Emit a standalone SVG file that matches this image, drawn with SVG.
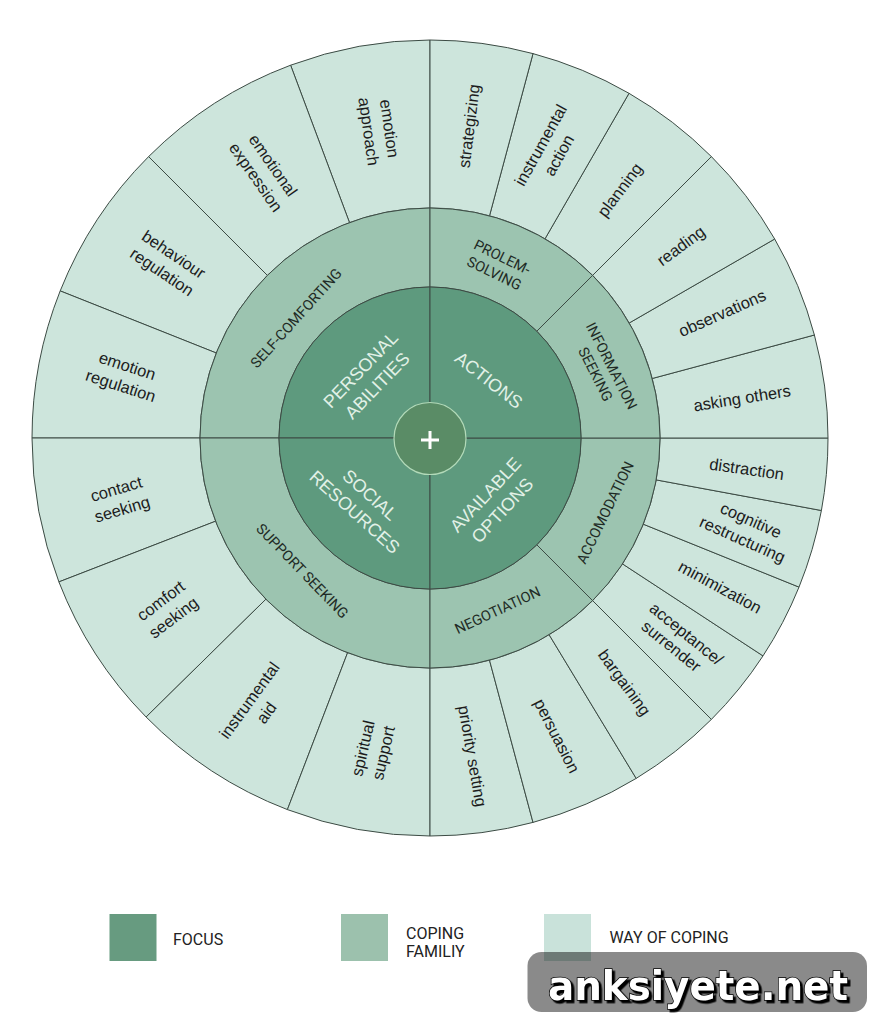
<svg xmlns="http://www.w3.org/2000/svg" width="871" height="1024" viewBox="0 0 871 1024">
<style>
.way{fill:#cde5dc;stroke:#3c4b44;stroke-width:1}
.fam{fill:#9cc4b0;stroke:#3c4b44;stroke-width:1}
.foc{fill:#5e9a7e;stroke:#3c4b44;stroke-width:1}
.wt{font-family:"Liberation Sans",Arial,sans-serif;font-size:16.5px;fill:#1c1c1c;text-anchor:middle}
.ft{font-family:Roboto,"Liberation Sans",sans-serif;font-size:14.5px;fill:#1f2b25;text-anchor:middle}
.fo{font-family:"Liberation Sans",Arial,sans-serif;font-size:18px;fill:#e2f1e7;text-anchor:middle}
.lg{font-family:Roboto,"Liberation Sans",sans-serif;font-size:16px;fill:#222}
</style>
<defs>
<filter id="shadow" x="-5%" y="-20%" width="110%" height="150%">
<feDropShadow dx="2.5" dy="2.5" stdDeviation="0.4" flood-color="#000000" flood-opacity="1"/>
</filter>
</defs>
<rect width="871" height="1024" fill="#ffffff"/>

<!-- ways of coping (outer ring) -->
<g id="way-emotion-approach"><path class="way" d="M430,40 A398,398 0 0 0 290.6,65.2 L349.5,222.6 A230,230 0 0 1 430,208 Z"/>
<text class="wt" transform="translate(379,130) rotate(82)"><tspan x="0" y="-5">emotion</tspan><tspan x="0" y="16">approach</tspan></text></g>
<g id="way-emotional-expression"><path class="way" d="M290.6,65.2 A398,398 0 0 0 148.6,156.6 L267.4,275.4 A230,230 0 0 1 349.5,222.6 Z"/>
<text class="wt" transform="translate(264.3,171.3) rotate(55)"><tspan x="0" y="-5">emotional</tspan><tspan x="0" y="16">expression</tspan></text></g>
<g id="way-behaviour-regulation"><path class="way" d="M148.6,156.6 A398,398 0 0 0 60.2,290.9 L216.3,353 A230,230 0 0 1 267.4,275.4 Z"/>
<text class="wt" transform="translate(167.7,263.3) rotate(34)"><tspan x="0" y="-5">behaviour</tspan><tspan x="0" y="16">regulation</tspan></text></g>
<g id="way-emotion-regulation"><path class="way" d="M60.2,290.9 A398,398 0 0 0 32,438 L200,438 A230,230 0 0 1 216.3,353 Z"/>
<text class="wt" transform="translate(124,376) rotate(18)"><tspan x="0" y="-5">emotion</tspan><tspan x="0" y="16">regulation</tspan></text></g>
<g id="way-contact-seeking"><path class="way" d="M32,438 A398,398 0 0 0 58.9,581.9 L215.6,521.2 A230,230 0 0 1 200,438 Z"/>
<text class="wt" transform="translate(119.3,499.3) rotate(-16.5)"><tspan x="0" y="-5">contact</tspan><tspan x="0" y="16">seeking</tspan></text></g>
<g id="way-comfort-seeking"><path class="way" d="M58.9,581.9 A398,398 0 0 0 146.1,717 L265.9,599.2 A230,230 0 0 1 215.6,521.2 Z"/>
<text class="wt" transform="translate(167.3,609.3) rotate(-37)"><tspan x="0" y="-5">comfort</tspan><tspan x="0" y="16">seeking</tspan></text></g>
<g id="way-instrumental-aid"><path class="way" d="M146.1,717 A398,398 0 0 0 287.4,809.6 L347.6,652.7 A230,230 0 0 1 265.9,599.2 Z"/>
<text class="wt" transform="translate(258,706.7) rotate(-54)"><tspan x="0" y="-5">instrumental</tspan><tspan x="0" y="16">aid</tspan></text></g>
<g id="way-spiritual-support"><path class="way" d="M287.4,809.6 A398,398 0 0 0 430,836 L430,668 A230,230 0 0 1 347.6,652.7 Z"/>
<text class="wt" transform="translate(373.3,750.7) rotate(-77)"><tspan x="0" y="-5">spiritual</tspan><tspan x="0" y="16">support</tspan></text></g>
<g id="way-priority-setting"><path class="way" d="M430,836 A398,398 0 0 0 533,822.4 L489.5,660.2 A230,230 0 0 1 430,668 Z"/>
<text class="wt" transform="translate(472.3,756) rotate(80)" y="5.5">priority setting</text></g>
<g id="way-persuasion"><path class="way" d="M533,822.4 A398,398 0 0 0 636.2,778.4 L549.1,634.7 A230,230 0 0 1 489.5,660.2 Z"/>
<text class="wt" transform="translate(556.7,736) rotate(63)" y="5.5">persuasion</text></g>
<g id="way-bargaining"><path class="way" d="M636.2,778.4 A398,398 0 0 0 711.4,719.4 L592.6,600.6 A230,230 0 0 1 549.1,634.7 Z"/>
<text class="wt" transform="translate(624.3,682.7) rotate(54)" y="5.5">bargaining</text></g>
<g id="way-acceptance-surrender"><path class="way" d="M711.4,719.4 A398,398 0 0 0 763,655.9 L622.5,563.9 A230,230 0 0 1 592.6,600.6 Z"/>
<text class="wt" transform="translate(680.3,641.3) rotate(39)"><tspan x="0" y="-4">acceptance/</tspan><tspan x="-4" y="15">surrender</tspan></text></g>
<g id="way-minimization"><path class="way" d="M763,655.9 A398,398 0 0 0 799,587.1 L643.3,524.2 A230,230 0 0 1 622.5,563.9 Z"/>
<text class="wt" transform="translate(720,587.3) rotate(28.5)" y="5.5">minimization</text></g>
<g id="way-cognitive-restructuring"><path class="way" d="M799,587.1 A398,398 0 0 0 821.4,510.5 L656.2,479.9 A230,230 0 0 1 643.3,524.2 Z"/>
<text class="wt" transform="translate(746.7,530) rotate(24)"><tspan x="0" y="-5">cognitive</tspan><tspan x="0" y="16">restructuring</tspan></text></g>
<g id="way-distraction"><path class="way" d="M821.4,510.5 A398,398 0 0 0 828,438 L660,438 A230,230 0 0 1 656.2,479.9 Z"/>
<text class="wt" transform="translate(746.7,469.3) rotate(8)" y="5.5">distraction</text></g>
<g id="way-asking-others"><path class="way" d="M828,438 A398,398 0 0 0 814.4,335 L652.2,378.5 A230,230 0 0 1 660,438 Z"/>
<text class="wt" transform="translate(742,398.3) rotate(-9)" y="5.5">asking others</text></g>
<g id="way-observations"><path class="way" d="M814.4,335 A398,398 0 0 0 774.7,239 L629.2,323 A230,230 0 0 1 652.2,378.5 Z"/>
<text class="wt" transform="translate(722.3,313.3) rotate(-24)" y="5.5">observations</text></g>
<g id="way-reading"><path class="way" d="M774.7,239 A398,398 0 0 0 711.4,156.6 L592.6,275.4 A230,230 0 0 1 629.2,323 Z"/>
<text class="wt" transform="translate(681,246) rotate(-36.5)" y="5.5">reading</text></g>
<g id="way-planning"><path class="way" d="M711.4,156.6 A398,398 0 0 0 629,93.3 L545,238.8 A230,230 0 0 1 592.6,275.4 Z"/>
<text class="wt" transform="translate(620,190) rotate(-53)" y="5.5">planning</text></g>
<g id="way-instrumental-action"><path class="way" d="M629,93.3 A398,398 0 0 0 533,53.6 L489.5,215.8 A230,230 0 0 1 545,238.8 Z"/>
<text class="wt" transform="translate(550,150.3) rotate(-61)"><tspan x="0" y="-5">instrumental</tspan><tspan x="0" y="16">action</tspan></text></g>
<g id="way-strategizing"><path class="way" d="M533,53.6 A398,398 0 0 0 430,40 L430,208 A230,230 0 0 1 489.5,215.8 Z"/>
<text class="wt" transform="translate(469.3,126) rotate(-83)" y="5.5">strategizing</text></g>

<!-- coping families (middle ring) -->
<g id="fam-self-comforting"><path class="fam" d="M430,208 A230,230 0 0 0 200,438 L279,438 A151,151 0 0 1 430,287 Z"/>
<text class="ft" transform="translate(296,318) rotate(-48)" y="5.2">SELF-COMFORTING</text></g>
<g id="fam-support-seeking"><path class="fam" d="M200,438 A230,230 0 0 0 430,668 L430,589 A151,151 0 0 1 279,438 Z"/>
<text class="ft" transform="translate(302.5,570.8) rotate(46)" y="5.2">SUPPORT SEEKING</text></g>
<g id="fam-negotiation"><path class="fam" d="M430,668 A230,230 0 0 0 592.6,600.6 L536.8,544.8 A151,151 0 0 1 430,589 Z"/>
<text class="ft" transform="translate(497.5,610) rotate(-25)" y="5.2">NEGOTIATION</text></g>
<g id="fam-accomodation"><path class="fam" d="M592.6,600.6 A230,230 0 0 0 660,438 L581,438 A151,151 0 0 1 536.8,544.8 Z"/>
<text class="ft" transform="translate(605,512.5) rotate(-64)" y="5.2">ACCOMODATION</text></g>
<g id="fam-information-seeking"><path class="fam" d="M660,438 A230,230 0 0 0 592.6,275.4 L536.8,331.2 A151,151 0 0 1 581,438 Z"/>
<text class="ft" transform="translate(603.7,370) rotate(63)"><tspan x="0" y="-3.8">INFORMATION</tspan><tspan x="0" y="14.2">SEEKING</tspan></text></g>
<g id="fam-problem-solving"><path class="fam" d="M592.6,275.4 A230,230 0 0 0 430,208 L430,287 A151,151 0 0 1 536.8,331.2 Z"/>
<text class="ft" transform="translate(498.3,265) rotate(26)"><tspan x="0" y="-3.8">PROLEM-</tspan><tspan x="0" y="14.2">SOLVING</tspan></text></g>

<!-- focus (inner) -->
<g id="focus-personal-abilities"><path class="foc" d="M430,438 L430,287 A151,151 0 0 0 279,438 Z"/>
<text class="fo" transform="translate(368.7,377.5) rotate(-46)"><tspan x="0" y="-5.1">PERSONAL</tspan><tspan x="0" y="17.9">ABILITIES</tspan></text></g>
<g id="focus-social-resources"><path class="foc" d="M430,438 L279,438 A151,151 0 0 0 430,589 Z"/>
<text class="fo" transform="translate(362.5,503.3) rotate(42)"><tspan x="0" y="-5.1">SOCIAL</tspan><tspan x="0" y="17.9">RESOURCES</tspan></text></g>
<g id="focus-available-options"><path class="foc" d="M430,438 L430,589 A151,151 0 0 0 581,438 Z"/>
<text class="fo" transform="translate(493.7,502.5) rotate(-47)"><tspan x="0" y="-5.1">AVAILABLE</tspan><tspan x="0" y="17.9">OPTIONS</tspan></text></g>
<g id="focus-actions"><path class="foc" d="M430,438 L581,438 A151,151 0 0 0 430,287 Z"/>
<text class="fo" transform="translate(489,380) rotate(38)" y="6.4">ACTIONS</text></g>

<!-- hub -->
<g id="hub">
<circle cx="430" cy="438.5" r="36" fill="#5a8c66" stroke="#b3dab9" stroke-width="1.2"/>
<path d="M421,440 H439 M430,431 V449" stroke="#ffffff" stroke-width="3" fill="none"/>
</g>

<!-- legend -->
<g id="legend-focus"><rect x="109.5" y="914" width="47" height="47" fill="#679b80"/><text class="lg" x="173" y="944.7">FOCUS</text></g>
<g id="legend-family"><rect x="341" y="914" width="47" height="47" fill="#9cc1ad"/><text class="lg" x="406" y="938.5">COPING</text><text class="lg" x="406" y="956.7">FAMILIY</text></g>
<g id="legend-way"><rect x="544" y="914" width="47" height="47" fill="#c9e2da"/><text class="lg" x="609.5" y="943">WAY OF COPING</text></g>

<!-- watermark -->
<g id="watermark">
<rect x="527.5" y="952" width="339.5" height="60" rx="14" fill="#000000" fill-opacity="0.46"/>
<text x="548" y="1000" font-family="'DejaVu Sans',sans-serif" font-weight="bold" font-size="40" fill="#ffffff" stroke="#000000" stroke-width="1.5" paint-order="stroke" textLength="300" lengthAdjust="spacingAndGlyphs" filter="url(#shadow)">anksiyete.net</text>
</g>
</svg>
